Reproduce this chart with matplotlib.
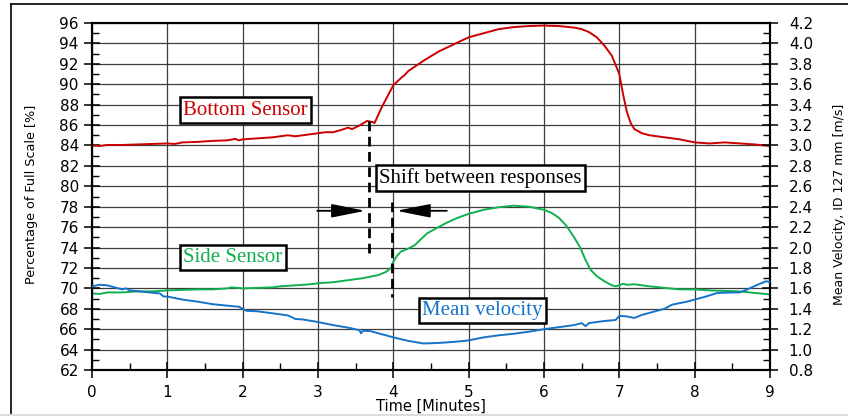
import numpy as np
import matplotlib.pyplot as plt
from matplotlib.lines import Line2D
from matplotlib.patches import ArrowStyle
from matplotlib.ticker import MultipleLocator, FormatStrFormatter

# sensor responses, time in minutes, signal in % of full scale
bottom_t = [0.0, 0.1, 0.2, 0.4, 0.6, 0.8, 1.0, 1.1, 1.2, 1.4, 1.6, 1.8, 1.9, 1.95,
            2.0, 2.2, 2.4, 2.6, 2.7, 2.8, 3.0, 3.1, 3.2, 3.3, 3.4, 3.45, 3.55, 3.65,
            3.72, 3.75, 3.8, 3.85, 3.9, 3.95, 4.0, 4.1, 4.15, 4.2, 4.3, 4.4, 4.6,
            4.8, 5.0, 5.2, 5.4, 5.6, 5.8, 6.0, 6.2, 6.4, 6.5, 6.6, 6.7, 6.8, 6.9,
            7.0, 7.05, 7.1, 7.15, 7.2, 7.3, 7.4, 7.6, 7.8, 8.0, 8.2, 8.4, 8.6, 8.8, 9.0]
bottom_pct = [84.0, 83.95, 84.05, 84.05, 84.1, 84.15, 84.2, 84.15, 84.3, 84.35, 84.45,
              84.5, 84.65, 84.5, 84.6, 84.7, 84.8, 85.0, 84.9, 85.0, 85.2, 85.3, 85.3,
              85.5, 85.75, 85.6, 85.95, 86.4, 86.3, 86.2, 87.0, 87.8, 88.5, 89.2, 89.9,
              90.6, 90.9, 91.3, 91.8, 92.3, 93.2, 93.9, 94.6, 95.0, 95.4, 95.6, 95.7,
              95.75, 95.7, 95.55, 95.4, 95.1, 94.6, 93.8, 92.8, 91.0, 89.0, 87.3, 86.2,
              85.6, 85.2, 85.0, 84.8, 84.6, 84.3, 84.2, 84.3, 84.2, 84.1, 83.95]

side_t = [0.0, 0.1, 0.2, 0.4, 0.6, 0.8, 1.0, 1.2, 1.4, 1.6, 1.8, 1.85, 2.0, 2.2, 2.4,
          2.5, 2.7, 2.9, 3.0, 3.2, 3.4, 3.6, 3.8, 3.9, 3.97, 4.0, 4.05, 4.1, 4.2, 4.28,
          4.35, 4.45, 4.6, 4.7, 4.85, 5.0, 5.2, 5.4, 5.6, 5.8, 6.0, 6.1, 6.2, 6.3, 6.4,
          6.48, 6.55, 6.62, 6.7, 6.8, 6.9, 6.95, 7.0, 7.05, 7.1, 7.2, 7.4, 7.6, 7.8,
          8.0, 8.2, 8.4, 8.6, 8.8, 9.0]
side_pct = [69.5, 69.45, 69.6, 69.6, 69.7, 69.7, 69.8, 69.85, 69.9, 69.9, 70.0, 70.1,
            70.0, 70.05, 70.1, 70.2, 70.3, 70.4, 70.5, 70.6, 70.8, 71.0, 71.3, 71.6,
            72.0, 72.6, 73.2, 73.6, 73.9, 74.2, 74.7, 75.4, 76.0, 76.4, 76.9, 77.3,
            77.7, 77.95, 78.1, 78.0, 77.7, 77.4, 76.9, 76.1, 75.0, 74.0, 72.8, 71.8,
            71.2, 70.7, 70.3, 70.2, 70.3, 70.45, 70.35, 70.4, 70.2, 70.05, 69.9, 69.9,
            69.8, 69.75, 69.7, 69.55, 69.4]

# mean flow velocity in m/s
vel_t = [0.0, 0.1, 0.2, 0.3, 0.4, 0.45, 0.5, 0.7, 0.9, 0.95, 1.0, 1.2, 1.4, 1.6, 1.8,
         1.95, 2.05, 2.2, 2.4, 2.6, 2.7, 2.8, 3.0, 3.2, 3.4, 3.55, 3.57, 3.6, 3.7, 3.8,
         4.0, 4.2, 4.4, 4.6, 4.8, 5.0, 5.2, 5.4, 5.6, 5.8, 6.0, 6.2, 6.4, 6.5, 6.55,
         6.6, 6.8, 6.95, 7.0, 7.1, 7.2, 7.3, 7.5, 7.6, 7.7, 7.9, 8.0, 8.15, 8.3, 8.5,
         8.6, 8.7, 8.85, 8.95, 9.0]
vel_ms = [1.62, 1.635, 1.63, 1.61, 1.59, 1.60, 1.58, 1.565, 1.55, 1.52, 1.52, 1.49,
          1.47, 1.445, 1.43, 1.42, 1.38, 1.375, 1.355, 1.335, 1.30, 1.295, 1.27, 1.24,
          1.215, 1.19, 1.16, 1.185, 1.18, 1.16, 1.12, 1.085, 1.06, 1.065, 1.075, 1.09,
          1.12, 1.14, 1.155, 1.175, 1.20, 1.22, 1.24, 1.26, 1.23, 1.26, 1.28, 1.29,
          1.33, 1.325, 1.31, 1.34, 1.38, 1.40, 1.44, 1.47, 1.49, 1.52, 1.555, 1.56,
          1.56, 1.59, 1.64, 1.67, 1.66]

# dashed markers for the onset of each response: (time, top, bottom)
onset_bottom = (3.68, 86.4, 73.45)
onset_side = (3.98, 78.45, 69.2)

RED = '#cc0000'
GREEN = '#10b050'
BLUE = '#1573c8'

W, H = 848, 416
fig = plt.figure(figsize=(W / 100, H / 100), dpi=100)
ax = fig.add_axes([92 / W, 46 / H, 678 / W, 347 / H])
ax2 = ax.twinx()

ax.plot(bottom_t, bottom_pct, color=RED, lw=1.4, zorder=3)
ax.plot(side_t, side_pct, color=GREEN, lw=1.4, zorder=3)
ax2.plot(vel_t, vel_ms, color=BLUE, lw=1.4, zorder=3)

ax.set_xlim(0, 9)
ax.set_ylim(62, 96)
ax2.set_ylim(0.8, 4.2)

ax.xaxis.set_major_locator(MultipleLocator(1))
ax.xaxis.set_minor_locator(MultipleLocator(0.5))
ax.yaxis.set_major_locator(MultipleLocator(2))
ax.yaxis.set_minor_locator(MultipleLocator(1))
ax2.yaxis.set_major_locator(MultipleLocator(0.2))
ax2.yaxis.set_minor_locator(MultipleLocator(0.1))
ax2.yaxis.set_major_formatter(FormatStrFormatter('%.1f'))

for a in (ax, ax2):
    a.tick_params(which='major', direction='inout', length=11, width=1.1,
                  colors='black', labelsize=11)
    a.tick_params(which='minor', direction='in', length=5, width=1.0)
    for s in a.spines.values():
        s.set_linewidth(1.5)
ax.tick_params(axis='y', pad=4)
ax.tick_params(axis='x', pad=5)
ax2.tick_params(axis='y', pad=8)

ax.grid(True, which='major', color='#3c3c3c', lw=0.9)
ax.set_axisbelow(True)

ax.set_xlabel('Time [Minutes]', fontsize=10.5)
ax.set_ylabel('Percentage of Full Scale [%]', fontsize=9.2)
ax2.set_ylabel('Mean Velocity, ID 127 mm [m/s]', fontsize=9)
ax.xaxis.set_label_coords(0.5, -0.083)
ax.yaxis.set_label_coords(-0.08, 0.507)
ax2.yaxis.set_label_coords(1.093, 0.476)

# annotations drawn on the top axes, positioned in % coordinates
tr = ax.transData
box = dict(boxstyle='square,pad=0.15', fc='white', ec='black', lw=1.8)
serif = dict(family='Liberation Serif', fontsize=15, ha='center', va='center',
             transform=tr, bbox=box, zorder=6)
ax2.text(2.04, 87.47, 'Bottom Sensor', color=RED, **serif)
ax2.text(5.16, 80.85, 'Shift between responses', color='black', **serif)
ax2.text(1.87, 73.0, 'Side Sensor', color=GREEN, **serif)
ax2.text(5.18, 67.86, 'Mean velocity', color=BLUE, **serif)

for t, y0, y1 in (onset_bottom, onset_side):
    ax2.plot([t, t], [y0, y1], transform=tr, color='black', lw=2.0,
             dashes=(3.5, 2), zorder=5)

head = ArrowStyle('-|>', head_length=1.3, head_width=0.26)
arrow = dict(arrowstyle=head, color='black', lw=1.3, shrinkA=0, shrinkB=0,
             mutation_scale=16)
ax2.annotate('', xy=(3.63, 77.6), xytext=(2.99, 77.6), xycoords=tr, textcoords=tr,
             arrowprops=arrow, zorder=5)
ax2.annotate('', xy=(4.04, 77.6), xytext=(4.71, 77.6), xycoords=tr, textcoords=tr,
             arrowprops=arrow, zorder=5)

# outer frame of the chart area
fig.add_artist(Line2D([10.5 / W, 10.5 / W], [1.5 / H, 412 / H], color='black', lw=1.2))
fig.add_artist(Line2D([10.5 / W, 1.0], [412 / H, 412 / H], color='black', lw=1.2))
fig.add_artist(Line2D([0, 1.0], [0.6 / H, 0.6 / H], color='#dddddd', lw=1.5))

fig.savefig('out.png', dpi=100)
